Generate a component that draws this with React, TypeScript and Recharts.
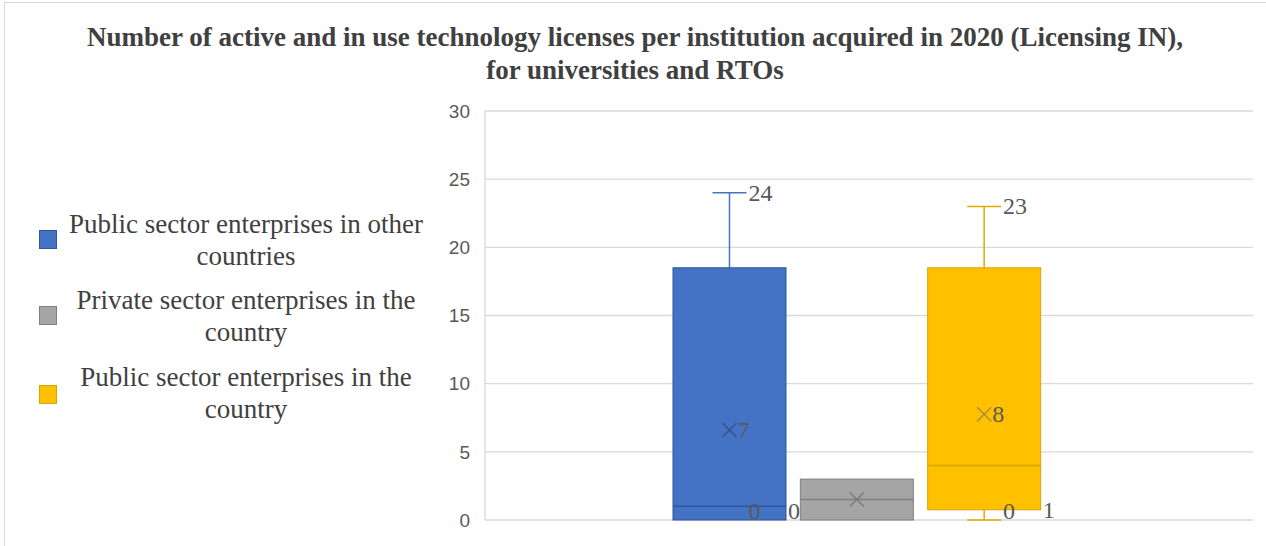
import { ComposedChart, Bar, XAxis, YAxis, CartesianGrid } from "recharts";

const seriesNames = [
  "Public sector enterprises in other countries",
  "Private sector enterprises in the country",
  "Public sector enterprises in the country",
];
const legendLines = [
  ["Public sector enterprises in other", "countries"],
  ["Private sector enterprises in the", "country"],
  ["Public sector enterprises in the", "country"],
];
const minVals = [0, 0, 0];
const q1Vals = [0, 0, 0.75];
const medianVals = [1, 1.5, 4];
const q3Vals = [18.5, 3, 18.5];
const maxVals = [24, 3, 23];
const meanVals = [6.6, 1.5, 7.75];
const showLabels = [true, false, true];
const yTicks = [0, 5, 10, 15, 20, 25, 30];

const fills = ["#4472C4", "#A5A5A5", "#FFC000"];
const strokes = ["#2F5597", "#7F7F7F", "#D9A300"];
const whiskerColors = ["#4472C4", "#A5A5A5", "#E0AA00"];
const meanColors = ["#3B5284", "#7A7A7A", "#A8903A"];

const data = seriesNames.map((name, i) => ({
  name,
  min: minVals[i],
  q1: q1Vals[i],
  median: medianVals[i],
  q3: q3Vals[i],
  max: maxVals[i],
  mean: meanVals[i],
  idx: i,
}));

const labelStyle = {
  fontFamily: "'Liberation Serif', 'Times New Roman', serif",
  fontSize: 24,
  fill: "#595959",
};

function BoxShape(props: any) {
  const { x, y, width, height, payload } = props;
  const d = payload;
  const i = d.idx;
  // y is pixel of max, y+height pixel of min: interpolate along the axis scale
  const span = d.max - d.min;
  const py = (v: number) => y + (height * (d.max - v)) / span;
  const bottom = py(0);
  const cx = x + width / 2;
  const capHalf = width * 0.15;
  const clampY = (v: number) => Math.min(py(v), bottom - 9);
  const m = 7;
  return (
    <g>
      {/* upper whisker */}
      {d.max > d.q3 && (
        <g stroke={whiskerColors[i]} strokeWidth={1.5}>
          <line x1={cx} x2={cx} y1={py(d.max)} y2={py(d.q3)} />
          <line x1={cx - capHalf} x2={cx + capHalf} y1={py(d.max)} y2={py(d.max)} />
        </g>
      )}
      {/* lower whisker */}
      {d.q1 > d.min && (
        <g stroke={whiskerColors[i]} strokeWidth={1.5}>
          <line x1={cx} x2={cx} y1={py(d.q1)} y2={py(d.min)} />
          <line x1={cx - capHalf} x2={cx + capHalf} y1={py(d.min)} y2={py(d.min)} />
        </g>
      )}
      <rect
        x={x}
        y={py(d.q3)}
        width={width}
        height={py(d.q1) - py(d.q3)}
        fill={fills[i]}
        stroke={strokes[i]}
        strokeWidth={1}
      />
      <line x1={x} x2={x + width} y1={py(d.median)} y2={py(d.median)} stroke={strokes[i]} strokeWidth={1.5} />
      <g stroke={meanColors[i]} strokeWidth={1.5}>
        <line x1={cx - m} x2={cx + m} y1={py(d.mean) - m} y2={py(d.mean) + m} />
        <line x1={cx - m} x2={cx + m} y1={py(d.mean) + m} y2={py(d.mean) - m} />
      </g>
      {showLabels[i] && (
        <g>
          <text {...labelStyle} x={cx + capHalf + 2} y={py(d.max)} dominantBaseline="central">
            {Math.round(d.max)}
          </text>
          <text {...labelStyle} x={cx + m + 1} y={py(d.mean)} dominantBaseline="central">
            {Math.round(d.mean)}
          </text>
          <text {...labelStyle} x={cx + capHalf + 2} y={clampY(d.min)} dominantBaseline="central">
            {Math.round(d.min)}
          </text>
          <text {...labelStyle} x={x + width + 2} y={clampY(d.q1)} dominantBaseline="central">
            {Math.round(d.q1)}
          </text>
        </g>
      )}
    </g>
  );
}

export default function App() {
  return (
    <div
      style={{
        position: "absolute",
        left: 0,
        top: 0,
        width: 1266,
        height: 546,
        background: "#fff",
        overflow: "hidden",
      }}
    >
      <div
        style={{
          position: "absolute",
          left: 4,
          top: 2,
          width: 1262,
          height: 544,
          borderLeft: "1.5px solid #d9d9d9",
          borderTop: "1.5px solid #d9d9d9",
        }}
      />
      <div
        style={{
          position: "absolute",
          left: 0,
          top: 21,
          width: 1270,
          textAlign: "center",
          fontFamily: "'Liberation Serif', 'Times New Roman', serif",
          fontWeight: "bold",
          fontSize: 27,
          lineHeight: "33px",
          color: "#404040",
        }}
      >
        Number of active and in use technology licenses per institution acquired in 2020 (Licensing IN),
        <br />
        for universities and RTOs
      </div>
      <div style={{ position: "absolute", left: 0, top: 0 }}>
        {legendLines.map((lines, i) => (
          <div key={i}>
            <div
              style={{
                position: "absolute",
                left: 39,
                top: [230, 306, 385][i],
                width: 16,
                height: 17,
                background: fills[i],
                border: `1px solid ${strokes[i]}`,
              }}
            />
            <div
              style={{
                position: "absolute",
                left: 60,
                top: [208, 284, 361][i],
                width: 372,
                textAlign: "center",
                fontFamily: "'Liberation Serif', 'Times New Roman', serif",
                fontSize: 27,
                lineHeight: "32px",
                color: "#404040",
              }}
            >
              {lines[0]}
              <br />
              {lines[1]}
            </div>
          </div>
        ))}
      </div>
      <div style={{ position: "absolute", left: 0, top: 0 }}>
        <ComposedChart
          width={1266}
          height={546}
          data={data}
          margin={{ top: 111, right: 13, bottom: 26, left: 425 }}
          barSize={113}
        >
          <CartesianGrid vertical={false} stroke="#d9d9d9" strokeWidth={1.3} />
          <XAxis dataKey="name" hide padding={{ left: 181, right: 205 }} />
          <YAxis
            width={60}
            domain={[0, 30]}
            ticks={yTicks}
            interval={0}
            tickLine={false}
            axisLine={{ stroke: "#d9d9d9", strokeWidth: 1.3 }}
            tickMargin={9}
            tick={{ fill: "#595959", fontSize: 19, fontFamily: "'Liberation Sans', Arial, sans-serif" }}
          />
          <Bar
            dataKey={(d: any) => [d.min, d.max]}
            isAnimationActive={false}
            shape={BoxShape}
          />
        </ComposedChart>
      </div>
    </div>
  );
}
